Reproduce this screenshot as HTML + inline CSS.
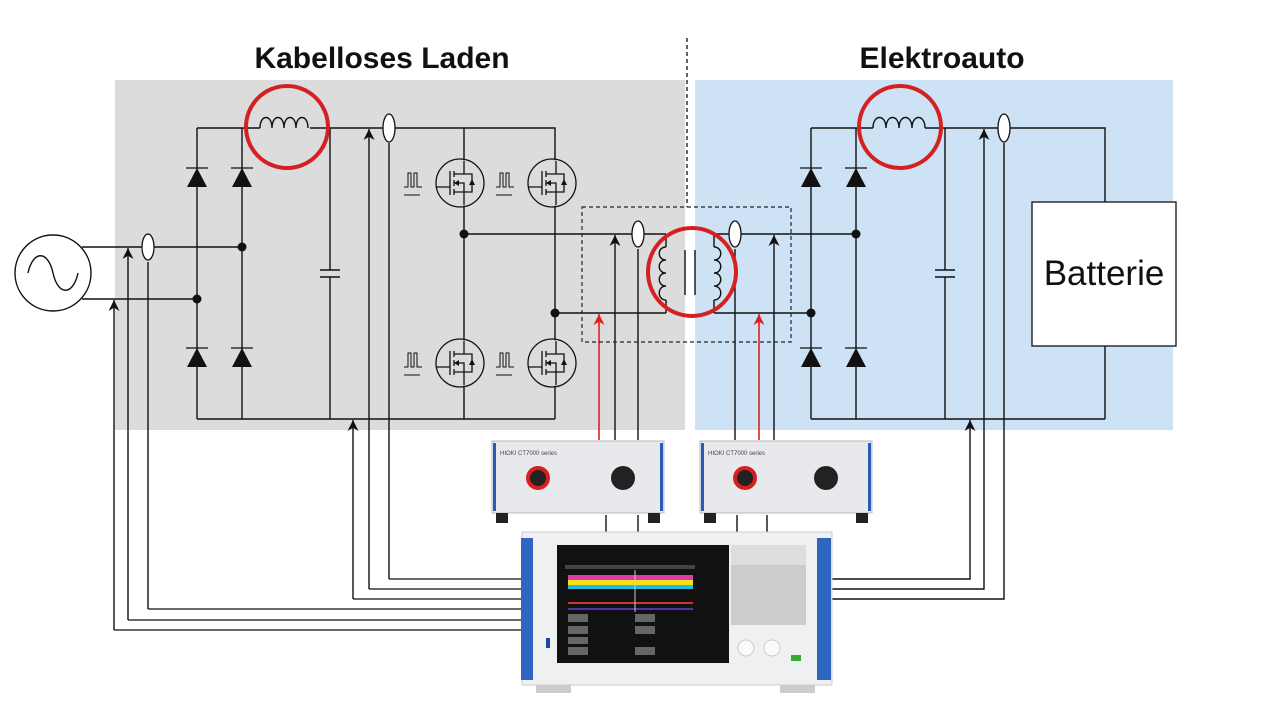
<!DOCTYPE html>
<html><head><meta charset="utf-8"><style>
html,body{margin:0;padding:0;background:#fff;}
svg{display:block}
</style></head><body>
<svg width="1280" height="721" viewBox="0 0 1280 721" xmlns="http://www.w3.org/2000/svg" font-family="Liberation Sans, sans-serif">
<defs>
<marker id="ah" viewBox="0 0 10 10" refX="10" refY="5" markerWidth="11" markerHeight="11" orient="auto" markerUnits="userSpaceOnUse"><path d="M0,0 L10,5 L0,10 L3,5 Z" fill="#111"/></marker>
<marker id="ahr" viewBox="0 0 10 10" refX="10" refY="5" markerWidth="11" markerHeight="11" orient="auto" markerUnits="userSpaceOnUse"><path d="M0,0 L10,5 L0,10 L3,5 Z" fill="#e02020"/></marker>
<g id="mos">
<circle cx="0" cy="0" r="24" fill="none" stroke="#111" stroke-width="1.3"/>
<path d="M-10,-12 V12 M-6,-12 V-6 M-6,-3 V3 M-6,6 V12 M-6,-9 H4 V-22 M-6,9 H4 V22 M-6,0 H4 V9 M4,-9 H12 V9 H4 M-24,4 H-10" stroke="#111" stroke-width="1.3" fill="none"/>
<path d="M-6,0 L-1,-3 L-1,3Z M12,-4 L9,2 L15,2Z" fill="#111"/>
<path d="M-56,4 h4 v-14 h3 v14 h3 v-14 h3 v14 h5 M-56,12 h16" stroke="#111" stroke-width="1" fill="none"/>
</g>
<g id="dio"><path d="M-11,0 H11" stroke="#111" stroke-width="1.3"/><path d="M0,0 L-10,19 H10Z" fill="#111"/></g>
</defs>

<rect x="115" y="80" width="570" height="350" fill="#dcdcdc"/>
<rect x="695" y="80" width="478" height="350" fill="#cde2f5"/>

<text x="382" y="68" font-size="30" font-weight="bold" text-anchor="middle" fill="#111">Kabelloses Laden</text>
<text x="942" y="68" font-size="30" font-weight="bold" text-anchor="middle" fill="#111">Elektroauto</text>
<line x1="687" y1="38" x2="687" y2="207" stroke="#111" stroke-width="1.3" stroke-dasharray="4,3"/>

<g stroke="#111" stroke-width="1.4" fill="none">
<circle cx="53" cy="273" r="38"/>
<path d="M28,273 C33,250 48,250 53,273 C58,296 73,296 78,273"/>
<path d="M82,247 H242 M82,299 H197"/>
<path d="M197,128 H260 M310,128 H555 V419 M197,419 H555 M197,128 V419 M242,128 V419 M330,128 V270 M330,277 V419 M464,128 V419"/>
<path d="M320,270 H340 M320,277 H340"/>
<path d="M260,128 c0,-14 12,-14 12,0 c0,-14 12,-14 12,0 c0,-14 12,-14 12,0 c0,-14 12,-14 12,0"/>
<path d="M464,234 H666 M555,313 H666 M666,234 V247 M666,300 V313"/>
<path d="M666,247 c-9,0 -9,13 0,13 c-9,0 -9,13 0,13 c-9,0 -9,13 0,13 c-9,0 -9,14 0,14"/>
<path d="M714,234 V247 M714,300 V313 M714,247 c9,0 9,13 0,13 c9,0 9,13 0,13 c9,0 9,13 0,13 c9,0 9,14 0,14"/>
<path d="M685,250 V295 M695,250 V295"/>
<path d="M714,234 H856 M714,313 H811"/>
<path d="M811,128 H873 M925,128 H1105 V202 M1105,346 V419 M811,419 H1105 M811,128 V419 M856,128 V419 M945,128 V270 M945,277 V419"/>
<path d="M935,270 H955 M935,277 H955"/>
<path d="M873,128 c0,-14 13,-14 13,0 c0,-14 13,-14 13,0 c0,-14 13,-14 13,0 c0,-14 13,-14 13,0"/>
<path d="M114,630 H522 M128,620 H522 M148,609 H522 M353,599 H522 M369,589 H522 M389,579 H522" stroke-width="1.3"/>
<path d="M114,630 V300" marker-end="url(#ah)"/>
<path d="M128,620 V248" marker-end="url(#ah)"/>
<path d="M148,609 V262"/>
<path d="M353,599 V420" marker-end="url(#ah)"/>
<path d="M369,589 V129" marker-end="url(#ah)"/>
<path d="M389,579 V143"/>
<path d="M832,579 H970 V420" marker-end="url(#ah)"/>
<path d="M832,589 H984 V129" marker-end="url(#ah)"/>
<path d="M832,599 H1004 V143"/>
<path d="M615,440 V235" marker-end="url(#ah)"/>
<path d="M638,440 V249"/>
<path d="M735,440 V249"/>
<path d="M774,440 V235" marker-end="url(#ah)"/>
<path d="M606,515 V535 M638,515 V535 M737,515 V535 M767,515 V535"/>
</g>
<path d="M599,440 V314" stroke="#e02020" stroke-width="1.6" marker-end="url(#ahr)"/>
<path d="M759,440 V314" stroke="#e02020" stroke-width="1.6" marker-end="url(#ahr)"/>
<g fill="#fff" stroke="#111" stroke-width="1.3">
<ellipse cx="148" cy="247" rx="6" ry="13"/>
<ellipse cx="389" cy="128" rx="6" ry="14"/>
<ellipse cx="638" cy="234" rx="6" ry="13"/>
<ellipse cx="735" cy="234" rx="6" ry="13"/>
<ellipse cx="1004" cy="128" rx="6" ry="14"/>
</g>
<rect x="1032" y="202" width="144" height="144" fill="#fff" stroke="#111" stroke-width="1.3"/>
<text x="1104" y="285" font-size="35" text-anchor="middle" fill="#111">Batterie</text>
<rect x="582" y="207" width="209" height="135" fill="none" stroke="#222" stroke-width="1.2" stroke-dasharray="4,3"/>

<g fill="#111">
<circle cx="242" cy="247" r="4.5"/><circle cx="197" cy="299" r="4.5"/>
<circle cx="464" cy="234" r="4.5"/><circle cx="555" cy="313" r="4.5"/>
<circle cx="856" cy="234" r="4.5"/><circle cx="811" cy="313" r="4.5"/>
</g>
<use href="#dio" x="197" y="168"/><use href="#dio" x="242" y="168"/>
<use href="#dio" x="197" y="348"/><use href="#dio" x="242" y="348"/>
<use href="#dio" x="811" y="168"/><use href="#dio" x="856" y="168"/>
<use href="#dio" x="811" y="348"/><use href="#dio" x="856" y="348"/>
<g fill="#dcdcdc"><circle cx="460" cy="183" r="23"/><circle cx="552" cy="183" r="23"/><circle cx="460" cy="363" r="23"/><circle cx="552" cy="363" r="23"/></g>
<use href="#mos" x="460" y="183"/><use href="#mos" x="552" y="183"/>
<use href="#mos" x="460" y="363"/><use href="#mos" x="552" y="363"/>

<g fill="none" stroke="#d42020" stroke-width="4">
<circle cx="287" cy="127" r="41"/>
<circle cx="900" cy="127" r="41"/>
<circle cx="692" cy="272" r="44"/>
</g>

<g>
<rect x="492" y="441" width="172" height="72" fill="#e8e9ec" stroke="#bbb"/>
<rect x="493" y="443" width="3" height="68" fill="#2a5bb5"/><rect x="660" y="443" width="3" height="68" fill="#2a5bb5"/>
<rect x="496" y="513" width="12" height="10" fill="#222"/><rect x="648" y="513" width="12" height="10" fill="#222"/>
<circle cx="538" cy="478" r="12" fill="#d42020"/><circle cx="538" cy="478" r="8" fill="#222"/>
<circle cx="623" cy="478" r="12" fill="#222"/>
<text x="500" y="455" font-size="6" fill="#445">HIOKI  CT7000 series</text>
<rect x="700" y="441" width="172" height="72" fill="#e8e9ec" stroke="#bbb"/>
<rect x="701" y="443" width="3" height="68" fill="#2a5bb5"/><rect x="868" y="443" width="3" height="68" fill="#2a5bb5"/>
<rect x="704" y="513" width="12" height="10" fill="#222"/><rect x="856" y="513" width="12" height="10" fill="#222"/>
<circle cx="745" cy="478" r="12" fill="#d42020"/><circle cx="745" cy="478" r="8" fill="#222"/>
<circle cx="826" cy="478" r="12" fill="#222"/>
<text x="708" y="455" font-size="6" fill="#445">HIOKI  CT7000 series</text>
</g>
<rect x="522" y="532" width="310" height="153" fill="#eef0f2" stroke="#ccc"/>
<rect x="536" y="685" width="35" height="8" fill="#ccc"/><rect x="780" y="685" width="35" height="8" fill="#ccc"/>
<rect x="521" y="538" width="12" height="142" fill="#2f66c2"/><rect x="817" y="538" width="14" height="142" fill="#2f66c2"/>
<rect x="557" y="545" width="172" height="118" fill="#111"/>
<rect x="565" y="565" width="130" height="4" fill="#444"/>
<rect x="568" y="575" width="125" height="5" fill="#e03aa8"/>
<rect x="568" y="580" width="125" height="5" fill="#f2e21a"/>
<rect x="568" y="585" width="125" height="4" fill="#27b8e0"/>
<rect x="568" y="602" width="125" height="2" fill="#c33"/>
<rect x="568" y="608" width="125" height="2" fill="#5534a0"/>
<line x1="635" y1="570" x2="635" y2="612" stroke="#ccc"/>
<g fill="#666"><rect x="568" y="614" width="20" height="8"/><rect x="568" y="626" width="20" height="8"/><rect x="568" y="637" width="20" height="7"/><rect x="568" y="647" width="20" height="8"/>
<rect x="635" y="614" width="20" height="8"/><rect x="635" y="626" width="20" height="8"/><rect x="635" y="647" width="20" height="8"/></g>
<rect x="731" y="545" width="75" height="30" fill="#ddd"/>
<rect x="731" y="565" width="75" height="60" fill="#ccc"/>
<circle cx="746" cy="648" r="8" fill="#fafafa" stroke="#ccc"/><circle cx="772" cy="648" r="8" fill="#fafafa" stroke="#ccc"/>
<rect x="791" y="655" width="10" height="6" fill="#3a3"/>
<rect x="546" y="638" width="4" height="10" fill="#1a4aa0"/>
</svg>
</body></html>
